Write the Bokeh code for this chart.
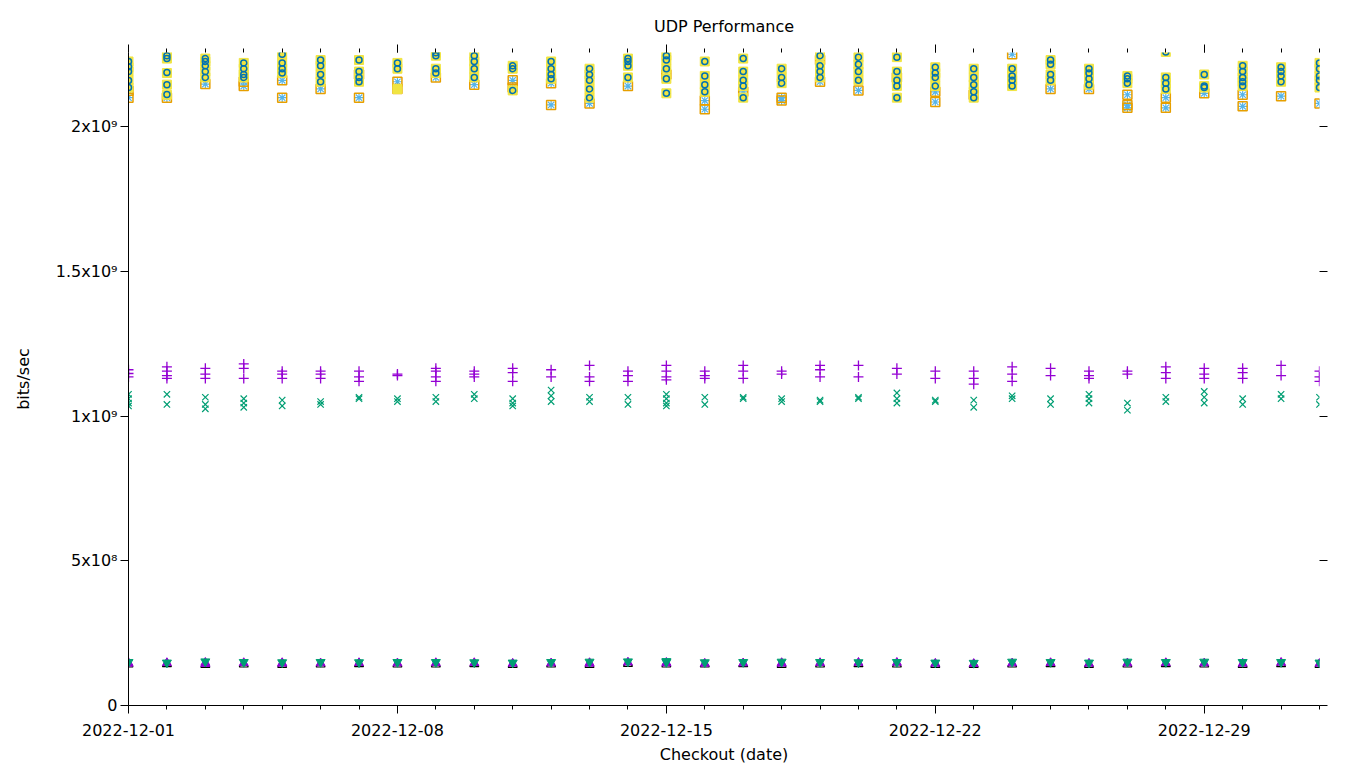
import datetime as dt
from bokeh.plotting import figure
from bokeh.models import FixedTicker, LinearAxis, DatetimeAxis, Range1d, ColumnDataSource
from bokeh.embed import file_html
from bokeh.resources import INLINE

# ---------------- data (values in Gbit/s, one list per day, Dec 1 .. Jan 1) -------------
start_day = dt.datetime(2022, 12, 1)
n_days = 32
days = [start_day + dt.timedelta(days=i) for i in range(n_days)]

major_tick_labels = ["2022-12-01", "2022-12-08", "2022-12-15", "2022-12-22", "2022-12-29"]
y_tick_values = [0, 5e8, 1e9, 1.5e9, 2e9]
y_tick_labels = ["0", "5x10\u2078", "1x10\u2079", "1.5x10\u2079", "2x10\u2079"]

# series 1: purple "+"
s1_plus = [
    [1.16, 1.147, 1.135], [1.17, 1.155, 1.14, 1.13], [1.165, 1.145, 1.13], [1.18, 1.165, 1.13],
    [1.155, 1.145, 1.13], [1.155, 1.145, 1.13], [1.155, 1.135, 1.12], [1.145, 1.14],
    [1.165, 1.155, 1.135, 1.12], [1.155, 1.145, 1.135], [1.165, 1.15, 1.12], [1.16, 1.135],
    [1.175, 1.135, 1.12], [1.155, 1.14, 1.12], [1.175, 1.155, 1.135, 1.125], [1.155, 1.14, 1.13],
    [1.175, 1.155, 1.13], [1.155, 1.145], [1.175, 1.16, 1.135], [1.175, 1.135],
    [1.165, 1.145], [1.155, 1.13], [1.155, 1.13, 1.11], [1.17, 1.145, 1.12],
    [1.165, 1.14], [1.155, 1.14, 1.13], [1.155, 1.145], [1.17, 1.15, 1.13],
    [1.165, 1.145, 1.13], [1.165, 1.15, 1.13], [1.175, 1.14], [1.155, 1.135, 1.12],
]
# series 2: green "x"
s2_x = [
    [1.075, 1.06, 1.045, 1.035], [1.075, 1.04], [1.065, 1.04, 1.025], [1.06, 1.045, 1.03],
    [1.055, 1.035], [1.05, 1.04], [1.065, 1.06], [1.06, 1.05],
    [1.065, 1.05], [1.075, 1.06], [1.06, 1.045, 1.035], [1.09, 1.07, 1.05],
    [1.065, 1.05], [1.065, 1.04], [1.075, 1.06, 1.045, 1.035], [1.065, 1.04],
    [1.065, 1.06], [1.06, 1.05], [1.055, 1.05], [1.065, 1.06],
    [1.08, 1.06, 1.045], [1.055, 1.05], [1.055, 1.03], [1.07, 1.06],
    [1.06, 1.04], [1.075, 1.06, 1.045], [1.045, 1.02], [1.065, 1.05],
    [1.085, 1.065, 1.045], [1.06, 1.04], [1.075, 1.06], [1.065, 1.04],
]
# series 3: light blue "*"
s3_star = [
    [2.124, 2.10], [2.10], [2.147], [2.155, 2.14], [2.16, 2.10], [2.13], [2.18, 2.10], [2.155, 2.13],
    [2.17], [2.145], [2.16, 2.135], [2.15, 2.075], [2.08], [2.14], [2.18], [2.09, 2.06],
    [2.12], [2.1, 2.09], [2.155, 2.23], [2.125], [2.17], [2.12, 2.085], [2.11], [2.25],
    [2.13], [2.13], [2.11, 2.075, 2.065], [2.1, 2.065], [2.115], [2.11, 2.07], [2.105], [2.08],
]
# series 4: orange open square
s4_square = [
    [2.124, 2.10], [2.10], [2.147], [2.155, 2.14], [2.16, 2.10], [2.13], [2.18, 2.10], [2.155, 2.13],
    [2.17], [2.145], [2.16, 2.135], [2.15, 2.075], [2.08], [2.14], [2.18], [2.09, 2.06],
    [2.12], [2.1, 2.09], [2.155, 2.23], [2.125], [2.17], [2.12, 2.085], [2.11], [2.25],
    [2.13], [2.13], [2.11, 2.075, 2.065], [2.1, 2.065], [2.115], [2.11, 2.07], [2.105], [2.08],
]
# series 5: yellow filled square
s5_fsquare = [
    [2.225, 2.205, 2.19, 2.16, 2.135], [2.245, 2.235, 2.185, 2.145, 2.11], [2.235, 2.225, 2.21, 2.19, 2.17],
    [2.22, 2.2, 2.18, 2.17], [2.25, 2.22, 2.2, 2.185], [2.23, 2.21, 2.18, 2.155], [2.23, 2.19, 2.17, 2.155],
    [2.22, 2.2, 2.13], [2.255, 2.245, 2.2, 2.185], [2.245, 2.225, 2.2, 2.17], [2.21, 2.2, 2.125],
    [2.225, 2.2, 2.18, 2.165], [2.2, 2.18, 2.16, 2.13, 2.1], [2.235, 2.225, 2.21, 2.17],
    [2.245, 2.23, 2.2, 2.165, 2.115], [2.225, 2.175, 2.145, 2.12], [2.235, 2.19, 2.16, 2.14, 2.1],
    [2.2, 2.17, 2.15], [2.245, 2.21, 2.19, 2.17], [2.24, 2.215, 2.19, 2.16], [2.24, 2.19, 2.16, 2.14, 2.1],
    [2.205, 2.185, 2.17, 2.14], [2.2, 2.17, 2.145, 2.12, 2.1], [2.2, 2.175, 2.16, 2.14],
    [2.23, 2.215, 2.18, 2.16], [2.2, 2.185, 2.165, 2.145], [2.175, 2.165, 2.15],
    [2.258, 2.17, 2.15, 2.13], [2.18, 2.14, 2.135], [2.21, 2.19, 2.17, 2.155, 2.14],
    [2.205, 2.19, 2.175, 2.155], [2.22, 2.2, 2.175, 2.16, 2.135],
]
# series 6: blue open circle
s6_circle = [
    [2.225, 2.207, 2.19, 2.159, 2.135], [2.245, 2.235, 2.187, 2.145, 2.111], [2.235, 2.225, 2.21, 2.19, 2.17],
    [2.22, 2.2, 2.18, 2.17], [2.25, 2.22, 2.2, 2.185], [2.23, 2.21, 2.18, 2.155], [2.23, 2.19, 2.17, 2.155],
    [2.22, 2.2], [2.255, 2.245, 2.2, 2.185], [2.245, 2.225, 2.2, 2.17], [2.21, 2.2, 2.125],
    [2.225, 2.2, 2.18, 2.165], [2.2, 2.18, 2.16, 2.13, 2.1], [2.235, 2.225, 2.21, 2.17],
    [2.245, 2.23, 2.2, 2.165, 2.115], [2.225, 2.175, 2.145, 2.12], [2.235, 2.19, 2.16, 2.14, 2.1],
    [2.2, 2.17, 2.15], [2.245, 2.21, 2.19, 2.17], [2.24, 2.215, 2.19, 2.16], [2.24, 2.19, 2.16, 2.14, 2.1],
    [2.205, 2.185, 2.17, 2.14], [2.2, 2.17, 2.145, 2.12, 2.1], [2.2, 2.175, 2.16, 2.14],
    [2.23, 2.215, 2.18, 2.16], [2.2, 2.185, 2.165, 2.145], [2.175, 2.165, 2.15],
    [2.258, 2.17, 2.15, 2.13], [2.18, 2.14, 2.135], [2.21, 2.19, 2.17, 2.155, 2.14],
    [2.205, 2.19, 2.175, 2.155], [2.22, 2.2, 2.175, 2.16, 2.135],
]
# series 8: black open triangle up
s8_tri = [[0.142], [0.143], [0.141], [0.142], [0.141], [0.142], [0.143], [0.142],
          [0.142], [0.143], [0.141], [0.142], [0.141], [0.144], [0.142], [0.142],
          [0.143], [0.141], [0.142], [0.143], [0.142], [0.141], [0.141], [0.142],
          [0.143], [0.141], [0.142], [0.143], [0.142], [0.141], [0.143], [0.141]]
# series 9: purple filled triangle up
s9_ftri = [[0.145, 0.147], [0.147], [0.144, 0.148], [0.147], [0.145, 0.147], [0.146], [0.147], [0.146],
           [0.147], [0.147], [0.145], [0.146], [0.145, 0.147], [0.149], [0.146, 0.148], [0.145],
           [0.146], [0.145, 0.147], [0.147], [0.148], [0.148], [0.145], [0.144], [0.146],
           [0.147], [0.145], [0.146], [0.147], [0.146], [0.145], [0.148], [0.145]]
# series 10: green triangle down
s10_dtri = [[0.150], [0.148], [0.152], [0.150], [0.149], [0.150], [0.149], [0.150],
            [0.150], [0.149], [0.148], [0.150], [0.151], [0.152], [0.150, 0.153], [0.149],
            [0.150], [0.151], [0.150], [0.149], [0.150], [0.148], [0.147], [0.151],
            [0.150], [0.148], [0.151], [0.150], [0.151], [0.150], [0.150], [0.148]]


def flatten(series):
    xs, ys = [], []
    for d, vals in zip(days, series):
        for v in vals:
            xs.append(d)
            ys.append(v * 1e9)
    return ColumnDataSource(dict(x=xs, y=ys))


FONT = "DejaVu Sans"
FS = "16px"

p = figure(width=1352, height=767, x_axis_type="datetime",
           x_range=Range1d(days[0], days[-1]), y_range=Range1d(0, 2.256e9),
           output_backend="svg", toolbar_location=None,
           min_border_left=128, min_border_right=33, min_border_top=52, min_border_bottom=62)
p.outline_line_color = None
p.xgrid.visible = False
p.ygrid.visible = False

p.title.text = "UDP Performance"
p.title.align = "center"
p.title.text_font = FONT
p.title.text_font_size = FS
p.title.text_font_style = "normal"
p.title.text_color = "black"
p.title.standoff = 17

to_ms = lambda d: (d - dt.datetime(1970, 1, 1)).total_seconds() * 1000.0
major_days = [days[i] for i in range(0, n_days, 7)]
x_ticker = FixedTicker(ticks=[to_ms(d) for d in major_days], minor_ticks=[to_ms(d) for d in days])
y_ticker = FixedTicker(ticks=y_tick_values, minor_ticks=[])

xa = p.xaxis[0]
xa.ticker = x_ticker
xa.major_label_overrides = {to_ms(d): lab for d, lab in zip(major_days, major_tick_labels)}
xa.axis_label = "Checkout (date)"

ya = p.yaxis[0]
ya.ticker = y_ticker
ya.major_label_overrides = {v: lab for v, lab in zip(y_tick_values, y_tick_labels)}
ya.axis_label = "bits/sec"

for ax in (xa, ya):
    ax.axis_line_color = "black"
    ax.axis_line_width = 1
    ax.major_tick_line_color = "black"
    ax.minor_tick_line_color = "black"
    ax.major_tick_in = 0
    ax.major_tick_out = 8
    ax.minor_tick_in = 0
    ax.minor_tick_out = 4
    ax.major_label_text_font = FONT
    ax.major_label_text_font_size = FS
    ax.major_label_text_color = "black"
    ax.axis_label_text_font = FONT
    ax.axis_label_text_font_size = FS
    ax.axis_label_text_font_style = "normal"
    ax.axis_label_text_color = "black"
xa.major_label_standoff = 10
xa.axis_label_standoff = 6
ya.major_label_standoff = 3
ya.axis_label_standoff = 20

top = DatetimeAxis(ticker=x_ticker, axis_line_color=None, major_tick_in=0, major_tick_out=8,
                   minor_tick_in=0, minor_tick_out=4, major_label_standoff=0,
                   major_label_overrides={to_ms(d): "" for d in major_days})
p.add_layout(top, "above")
right = LinearAxis(ticker=y_ticker, axis_line_color=None, major_tick_in=0, major_tick_out=8,
                   minor_tick_in=0, minor_tick_out=0, major_label_standoff=0,
                   major_label_overrides={v: "" for v in y_tick_values})
p.add_layout(right, "right")

p.scatter("x", "y", source=flatten(s1_plus), marker="cross", size=10, line_color="#9400d3", line_width=1.3)
p.scatter("x", "y", source=flatten(s2_x), marker="x", size=9, line_color="#009e73", line_width=1.2)
p.scatter("x", "y", source=flatten(s3_star), marker="asterisk", size=9, line_color="#56b4e9", line_width=1.2)
p.scatter("x", "y", source=flatten(s4_square), marker="square", size=9, fill_color=None,
          line_color="#e69f00", line_width=1.5)
p.scatter("x", "y", source=flatten(s5_fsquare), marker="square", size=9, fill_color="#f0e442",
          line_color="#f0e442", line_width=1)
p.scatter("x", "y", source=flatten(s6_circle), marker="circle", size=6, fill_color=None,
          line_color="#0072b2", line_width=1.5)
p.scatter("x", "y", source=flatten(s8_tri), marker="triangle", size=9, fill_color=None,
          line_color="black", line_width=1.2)
p.scatter("x", "y", source=flatten(s9_ftri), marker="triangle", size=9, fill_color="#9400d3",
          line_color="#9400d3", line_width=1)
p.scatter("x", "y", source=flatten(s10_dtri), marker="inverted_triangle", size=9, fill_color="#009e73",
          line_color="#009e73", line_width=1)

open("out.html", "w").write(file_html(p, INLINE))
